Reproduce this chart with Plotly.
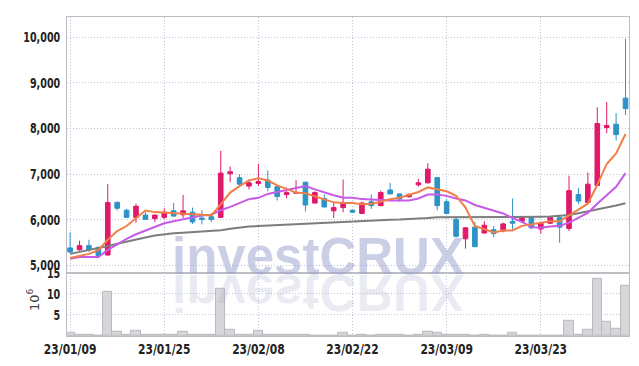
import plotly.graph_objects as go
from plotly.subplots import make_subplots

dates = ["23/01/09","23/01/10","23/01/11","23/01/12","23/01/13","23/01/16","23/01/17","23/01/18","23/01/19","23/01/20",
         "23/01/25","23/01/26","23/01/27","23/01/30","23/01/31","23/02/01","23/02/02","23/02/03","23/02/06","23/02/07",
         "23/02/08","23/02/09","23/02/10","23/02/13","23/02/14","23/02/15","23/02/16","23/02/17","23/02/20","23/02/21",
         "23/02/22","23/02/23","23/02/24","23/02/27","23/02/28","23/03/02","23/03/03","23/03/06","23/03/07","23/03/08",
         "23/03/09","23/03/10","23/03/13","23/03/14","23/03/15","23/03/16","23/03/17","23/03/20","23/03/21","23/03/22",
         "23/03/23","23/03/24","23/03/27","23/03/28","23/03/29","23/03/30","23/03/31","23/04/03","23/04/04","23/04/05"]

opens = [5380,5340,5430,5390,5225,6380,6207,6050,6100,6021,
         6050,6193,6107,6164,6036,6064,6050,7007,6921,6736,
         6793,6864,6721,6550,6579,6821,6364,6464,6193,6264,
         6207,6136,6393,6307,6650,6564,6500,6764,6807,6921,
         6393,6007,5579,5836,5707,5779,5750,5964,5964,6050,
         5793,5921,6050,5807,6550,6378,6750,8021,8093,8664]
highs = [5720,5540,5560,5410,6780,6395,6236,6350,6164,6114,
         6250,6364,6543,6264,6207,6136,7507,7164,6993,6879,
         7221,7078,6764,6707,6864,6830,6621,6550,6364,6879,
         6220,6393,6550,6636,6807,6570,6579,6893,7236,6925,
         6450,6064,5836,5950,5964,5864,5936,6464,6064,6079,
         5936,6064,6079,6964,6693,7036,8464,8578,8335,9964]
lows = [5260,5320,5290,5190,5210,6200,6036,5935,6000,5950,
        6007,6064,6036,5907,5893,5950,6036,6821,6721,6664,
        6736,6621,6421,6464,6564,6178,6350,6270,6036,6164,
        6150,6130,6236,6293,6560,6393,6486,6721,6793,6207,
        6121,5607,5364,5400,5693,5621,5721,5779,5950,5793,
        5693,5907,5493,5750,6336,6370,6740,7893,7736,8293]
closes = [5290,5430,5340,5210,6375,6250,6050,6293,6007,6100,
          6164,6078,6193,5950,6007,6007,7021,7050,6778,6807,
          6836,6707,6507,6593,6593,6321,6593,6278,6264,6378,
          6164,6364,6307,6593,6564,6450,6550,6807,7107,6307,
          6136,5636,5821,5407,5878,5693,5907,5921,6050,5821,
          5921,6050,5836,6636,6407,6778,8107,8064,7864,8435]

ma_orange = [5160,5200,5250,5330,5560,5750,5860,6030,6200,6165,
             6150,6136,6136,6121,6107,6093,6336,6593,6736,6860,
             6907,6857,6750,6679,6593,6579,6507,6450,6379,6364,
             6364,6336,6350,6393,6450,6479,6536,6607,6707,6664,
             6621,6521,6264,5864,5793,5721,5764,5764,5864,5893,
             5936,5964,5964,6093,6221,6350,6764,7221,7450,7878]
ma_purple = [5143,5179,5179,5179,5336,5464,5579,5679,5764,5843,
             5921,5964,6007,6050,6093,6107,6207,6279,6364,6450,
             6479,6564,6607,6650,6707,6736,6664,6593,6536,6479,
             6479,6450,6436,6421,6421,6421,6421,6464,6550,6550,
             6521,6464,6421,6321,6264,6207,6136,6036,5950,5836,
             5821,5850,5864,5936,6036,6150,6350,6536,6721,7021]
ma_grey = [5250,5290,5330,5370,5420,5470,5520,5570,5610,5650,
           5680,5700,5715,5725,5735,5745,5770,5800,5830,5850,
           5860,5870,5880,5890,5900,5910,5920,5935,5950,5965,
           5975,5985,5990,5995,6000,6005,6010,6020,6035,6050,
           6050,6050,6050,6050,6050,6050,6050,6050,6055,6060,
           6065,6070,6080,6100,6140,6180,6220,6260,6310,6360]

volume_m = [0.86,0.2,0.2,0.05,10.45,1.1,0.4,1.33,0.4,0.4,
            0.4,0.4,1.1,0.2,0.2,0.2,11.1,1.56,0.4,0.4,
            1.33,0.4,0.2,0.2,0.2,0.2,0.1,0.1,0.1,0.7,
            0.1,0.2,0.1,0.2,0.2,0.2,0.1,0.4,1.1,0.7,
            0.2,0.2,0.2,0.1,0.2,0.1,0.1,0.86,0.1,0.1,
            0.1,0.1,0.1,3.6,0.4,1.4,13.5,3.4,1.6,11.9]

tick_dates = ["23/01/09","23/01/25","23/02/08","23/02/22","23/03/09","23/03/23"]
price_ticks = [5000,6000,7000,8000,9000,10000]
vol_ticks = [5,10,15]

RED = "#e0196b"
BLUE = "#2c93c7"
GRID = "#bfc3d9"
LINE = "#bdbdc4"
TICKFONT = dict(family="'Liberation Sans Narrow', 'DejaVu Sans Condensed', 'Roboto Condensed', Roboto, sans-serif",
                size=14, color="#222222", weight="bold")

fig = make_subplots(rows=2, cols=1, shared_xaxes=True, vertical_spacing=0,
                    row_heights=[263, 65])

fig.add_trace(go.Candlestick(
    x=dates, open=opens, high=highs, low=lows, close=closes,
    increasing=dict(line=dict(color=RED, width=1), fillcolor=RED),
    decreasing=dict(line=dict(color=BLUE, width=1), fillcolor=BLUE),
    whiskerwidth=0, showlegend=False, hoverinfo="skip"), row=1, col=1)

fig.add_trace(go.Scatter(x=dates, y=ma_grey, mode="lines",
                         line=dict(color="#7d7d7d", width=2), showlegend=False), row=1, col=1)
fig.add_trace(go.Scatter(x=dates, y=ma_purple, mode="lines",
                         line=dict(color="#c75ae6", width=2), showlegend=False), row=1, col=1)
fig.add_trace(go.Scatter(x=dates, y=ma_orange, mode="lines",
                         line=dict(color="#ef8048", width=2), showlegend=False), row=1, col=1)

fig.add_trace(go.Bar(x=dates, y=volume_m,
                     marker=dict(color="#d7d7db", line=dict(color="#b9b9be", width=1)),
                     showlegend=False), row=2, col=1)

xcommon = dict(type="category", range=[-0.33, 59.37], tickvals=tick_dates,
               showgrid=True, gridcolor=GRID, griddash="1px,2px", gridwidth=1,
               showline=True, linecolor=LINE, linewidth=1, mirror=True,
               ticks="", zeroline=False)
fig.update_xaxes(**xcommon)
fig.update_xaxes(showticklabels=False, rangeslider=dict(visible=False), row=1, col=1)
fig.update_xaxes(showticklabels=True, tickfont=TICKFONT, tickangle=0, row=2, col=1)

fig.update_yaxes(range=[4835, 10443], tickvals=price_ticks, tickformat=",",
                 showgrid=True, gridcolor=GRID, griddash="1px,2px", gridwidth=1,
                 showline=True, linecolor=LINE, linewidth=1, mirror=True,
                 ticks="", zeroline=False, tickfont=TICKFONT, ticklabelstandoff=3,
                 row=1, col=1)
fig.update_yaxes(range=[0, 15], tickvals=vol_ticks,
                 showgrid=True, gridcolor=GRID, griddash="1px,2px", gridwidth=1,
                 showline=True, linecolor=LINE, linewidth=1, mirror=True,
                 ticks="", zeroline=False, tickfont=TICKFONT, ticklabelstandoff=3,
                 row=2, col=1)

fig.update_layout(
    width=639, height=366,
    margin=dict(l=67, r=9, t=9, b=29),
    paper_bgcolor="white", plot_bgcolor="white",
    bargap=0, showlegend=False,
    annotations=[
        dict(text="investCRUX", xref="paper", yref="paper", x=0.4467, y=0.25,
             xanchor="center", yanchor="middle", showarrow=False,
             font=dict(family="Liberation Sans", size=51, color="rgba(150,160,205,0.5)", weight="bold")),
        dict(text="investCRUX", xref="paper", yref="paper", x=0.4467, y=0.136,
             xanchor="center", yanchor="middle", showarrow=False,
             font=dict(family="Liberation Sans", size=51, color="rgba(160,165,200,0.22)", weight="bold")),
        dict(text="10<sup>6</sup>", xref="paper", yref="paper", x=-0.0604, y=0.113,
             xanchor="center", yanchor="middle", showarrow=False, textangle=-90,
             font=dict(family="DejaVu Sans", size=13, color="#444444")),
    ],
)

post = """
var gd = document.getElementById('{plot_id}');
function squeeze(el, sx){
  var cur = el.getAttribute('transform') || '';
  if (el.__applied && cur === el.__applied) return;
  var x = parseFloat(el.getAttribute('x')) || 0;
  var y = parseFloat(el.getAttribute('y')) || 0;
  var nt = cur + ' translate(' + x + ',' + y + ') scale(' + sx + ',1) translate(' + (-x) + ',' + (-y) + ')';
  el.setAttribute('transform', nt);
  el.__applied = nt;
}
function applyAll(){
  var r = gd.querySelector('g.annotation[data-index="1"] text.annotation-text');
  if (r) {
    r.style.transformBox = 'fill-box';
    r.style.transformOrigin = '50% 50%';
    r.style.transform = 'scaleY(-1)';
  }
  gd.querySelectorAll('g.ytick text, g.y2tick text').forEach(function(t){ squeeze(t, 0.76); });
  gd.querySelectorAll('g.x2tick text').forEach(function(t){ squeeze(t, 0.85); });
}
applyAll();
setTimeout(applyAll, 50);
if (gd.on) gd.on('plotly_afterplot', applyAll);
"""
fig.write_html("out.html", post_script=post)
